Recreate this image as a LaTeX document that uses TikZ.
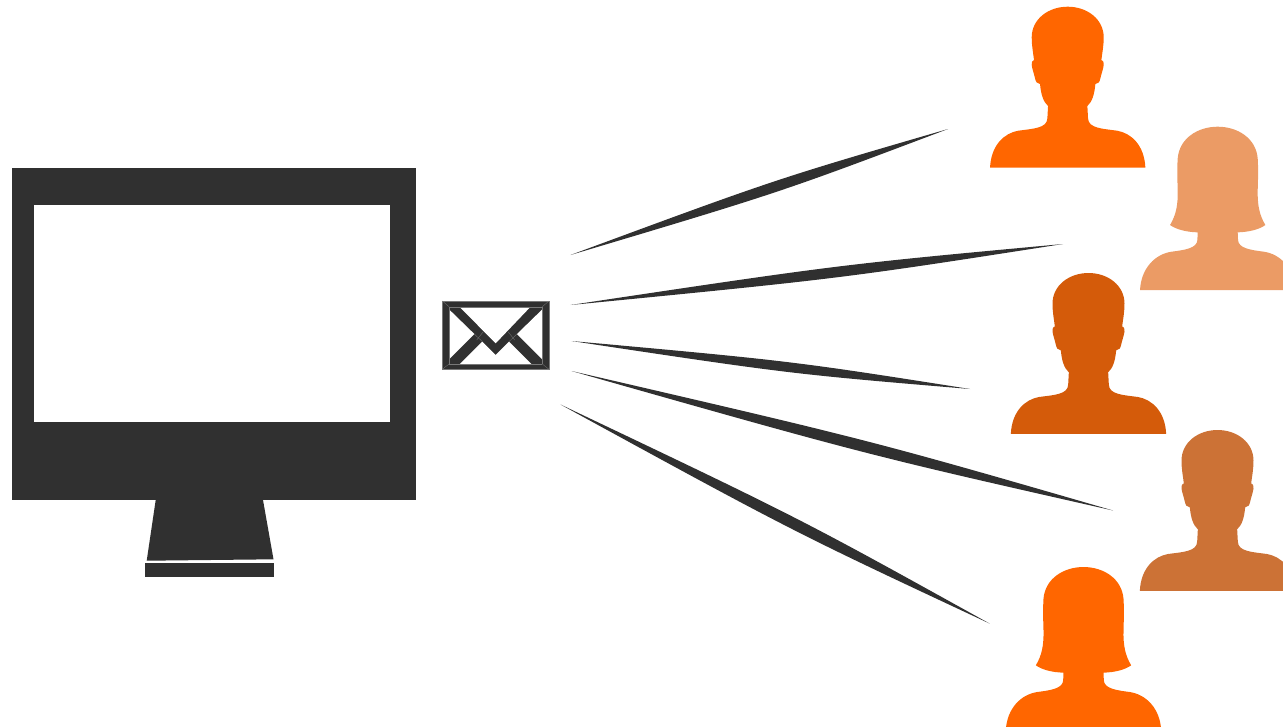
\documentclass[tikz,border=0pt]{standalone}
\usetikzlibrary{calc}
\definecolor{dark}{HTML}{303030}
\definecolor{orangeA}{HTML}{FF6600}
\definecolor{orangeB}{HTML}{EB9B65}
\definecolor{orangeC}{HTML}{D45B0A}
\definecolor{orangeD}{HTML}{CC7236}
\tikzset{
  darkfill/.style={fill=dark,draw=none},
  whitefill/.style={fill=white,draw=none},
  flapline/.style={draw=dark!65!white,line width=0.3pt},
}
% silhouette drawing units: 1/3 px, origin at top centre of the head
\newcommand{\maleshape}[3]{%
 \begin{scope}[shift={(#1,#2)},x=0.3333pt,y=-0.3333pt]
 \fill[#3] (-233,483)
  .. controls (-230,415) and (-190,379) .. (-148,372)
  .. controls (-105,366) and (-62,365) .. (-61,335)
  -- (-59,298)
  .. controls (-73,285) and (-80,265) .. (-83,232)
  .. controls (-92,232) and (-96,225) .. (-98,215)
  .. controls (-102,198) and (-107,185) .. (-108,175)
  .. controls (-108,165) and (-105,160) .. (-101,160)
  .. controls (-105,130) and (-108,115) .. (-108,92)
  .. controls (-108,37) and (-58,0) .. (0,0)
  .. controls (58,0) and (108,37) .. (108,92)
  .. controls (108,115) and (105,130) .. (101,160)
  .. controls (105,160) and (108,165) .. (108,175)
  .. controls (107,185) and (102,198) .. (98,215)
  .. controls (96,225) and (92,232) .. (83,232)
  .. controls (80,265) and (73,285) .. (59,298)
  -- (61,335)
  .. controls (62,365) and (105,366) .. (148,372)
  .. controls (190,379) and (230,415) .. (233,483)
  -- cycle;
 \end{scope}}
\newcommand{\femaleshape}[3]{%
 \begin{scope}[shift={(#1,#2)},x=0.3333pt,y=-0.3333pt]
 \fill[#3] (-233,490)
  .. controls (-230,425) and (-188,382) .. (-138,375)
  .. controls (-100,370) and (-62,365) .. (-61,340)
  -- (-60,317)
  .. controls (-95,316) and (-125,308) .. (-143,295)
  .. controls (-125,265) and (-119,235) .. (-120,190)
  .. controls (-121,160) and (-122,125) .. (-120,95)
  .. controls (-115,35) and (-60,0) .. (0,0)
  .. controls (60,0) and (115,35) .. (120,95)
  .. controls (122,125) and (121,160) .. (120,190)
  .. controls (119,235) and (125,265) .. (143,295)
  .. controls (125,308) and (95,316) .. (60,317)
  -- (61,340)
  .. controls (62,365) and (100,370) .. (138,375)
  .. controls (188,382) and (230,425) .. (233,490)
  -- cycle;
 \end{scope}}
\newcommand{\spindle}[3]{%
 \fill[dark] (#1) .. controls ($(#1)!0.55!(#2)!#3!90:(#2)$) .. (#2)
   .. controls ($(#1)!0.55!(#2)!#3!-90:(#2)$) .. cycle;}
\begin{document}
\begin{tikzpicture}[x=1pt,y=-1pt]
\useasboundingbox (0,0) rectangle (1283,726);
\clip (0,0) rectangle (1283,726);
% monitor
\fill[darkfill] (12,168) rectangle (415.5,500);
\fill[whitefill] (34,205) rectangle (389.5,422);
\fill[darkfill] (155.7,500) -- (263,500) -- (273.5,559.3) -- (146.7,560.7) -- cycle;
\fill[darkfill] (145,562.7) rectangle (274,576.7);
% envelope
\begin{scope}[shift={(430,290)},x=0.3333pt,y=-0.3333pt]
 \fill[darkfill] (37,33) rectangle (357,238);
 \fill[whitefill] (90,52) -- (300,52) -- (197,160) -- cycle;
 \fill[whitefill] (57,58) -- (133,132) -- (57,208) -- cycle;
 \fill[whitefill] (337,58) -- (261,132) -- (337,208) -- cycle;
 \fill[whitefill] (90,222) -- (157,155) -- (197,195) -- (237,155) -- (304,222) -- cycle;
 \draw[flapline] (37,33) rectangle (357,238);
 \draw[flapline] (57,50) -- (337,50) (57,222) -- (337,222) (57,50) -- (57,222) (337,50) -- (337,222);
 \draw[flapline] (37,33) -- (57,50) (357,33) -- (337,50) (37,238) -- (57,222) (357,238) -- (337,222);
 \draw[flapline] (133,132) -- (157,155) (261,132) -- (237,155) (140,150) -- (160,125) (254,150) -- (234,125);
\end{scope}
% rays
\coordinate (r1a) at (570.5,255);  \coordinate (r1b) at (948,129);
\coordinate (r2a) at (570.5,305);  \coordinate (r2b) at (1063,244);
\coordinate (r3a) at (571.5,341);  \coordinate (r3b) at (970,389);
\coordinate (r4a) at (571.5,371);  \coordinate (r4b) at (1113,510.5);
\coordinate (r5a) at (560.5,404.5);  \coordinate (r5b) at (989.5,623.5);
\spindle{r1a}{r1b}{7pt}
\spindle{r2a}{r2b}{7pt}
\spindle{r3a}{r3b}{6.5pt}
\spindle{r4a}{r4b}{7.5pt}
\spindle{r5a}{r5b}{7.5pt}
% people
\maleshape{1067.7}{6.7}{orangeA}
\femaleshape{1217.7}{126.7}{orangeB}
\maleshape{1088.5}{273}{orangeC}
\maleshape{1217.5}{430}{orangeD}
\femaleshape{1083.5}{567}{orangeA}
\end{tikzpicture}
\end{document}
